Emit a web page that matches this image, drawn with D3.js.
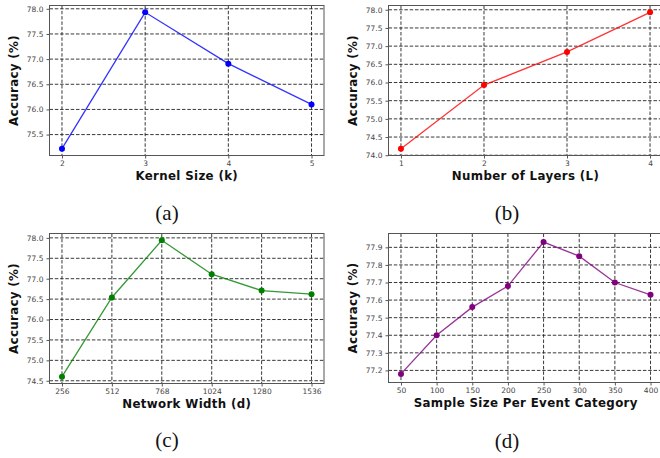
<!DOCTYPE html>
<html>
<head>
<meta charset="utf-8">
<script src="https://cdn.jsdelivr.net/npm/d3@7"></script>
<style>
  body { margin: 0; background: #fff; }
  svg { display: block; }
  .tick text { font-family: "DejaVu Sans", sans-serif; font-size: 7.5px; fill: #444; }
  .axis-label { font-family: "DejaVu Sans", sans-serif; font-size: 11.8px; font-weight: bold; fill: #111; letter-spacing: 0.35px; }
  .caption { font-family: "Liberation Serif", "DejaVu Serif", serif; font-size: 21px; fill: #111; }
</style>
</head>
<body>
<div id="fig"></div>
<script>
// (a) kernel size
const kernelSizes = [2, 3, 4, 5];
const kernelAcc = [75.22, 77.93, 76.91, 76.10];
const kernelTicksY = [75.5, 76.0, 76.5, 77.0, 77.5, 78.0];

// (b) number of layers
const layerCounts = [1, 2, 3, 4];
const layerAcc = [74.18, 75.93, 76.84, 77.93];
const layerTicksY = [74.0, 74.5, 75.0, 75.5, 76.0, 76.5, 77.0, 77.5, 78.0];

// (c) network width
const widths = [256, 512, 768, 1024, 1280, 1536];
const widthAcc = [74.60, 76.54, 77.94, 77.11, 76.71, 76.62];
const widthTicksY = [74.5, 75.0, 75.5, 76.0, 76.5, 77.0, 77.5, 78.0];

// (d) sample size per event category
const sampleSizes = [50, 100, 150, 200, 250, 300, 350, 400];
const sampleAcc = [77.18, 77.40, 77.56, 77.68, 77.93, 77.85, 77.70, 77.63];
const sampleTicksY = [77.2, 77.3, 77.4, 77.5, 77.6, 77.7, 77.8, 77.9];

const width = 660;
const height = 458;

const svg = d3.select("#fig")
  .append("svg")
  .attr("width", width)
  .attr("height", height);

// matplotlib-like margins around the data
const padded = (vals, frac = 0.05) => {
  const [lo, hi] = d3.extent(vals);
  const m = (hi - lo) * frac;
  return [lo - m, hi + m];
};

const panels = [
  { x: kernelSizes, y: kernelAcc, yTicks: kernelTicksY, color: "#0000ff",
    xLabel: "Kernel Size (k)", caption: "(a)", box: [49.5, 5.5, 324, 155.5], capPos: [167, 220] },
  { x: layerCounts, y: layerAcc, yTicks: layerTicksY, color: "#ff0000",
    xLabel: "Number of Layers (L)", caption: "(b)", box: [388.5, 5.5, 662.5, 155.5], capPos: [507, 220] },
  { x: widths, y: widthAcc, yTicks: widthTicksY, color: "#008000",
    xLabel: "Network Width (d)", caption: "(c)", box: [49.5, 233.5, 324, 383.5], capPos: [167, 447] },
  { x: sampleSizes, y: sampleAcc, yTicks: sampleTicksY, color: "#800080", yPad: 0.065,
    xLabel: "Sample Size Per Event Category", caption: "(d)", box: [388.5, 233.5, 663, 382.5], capPos: [507, 448] }
];

panels.forEach((p) => {
  const [x0, y0, x1, y1] = p.box;
  const xScale = d3.scaleLinear().domain(padded(p.x)).range([x0, x1]);
  const yScale = d3.scaleLinear().domain(padded(p.y, p.yPad || 0.05)).range([y1, y0]);
  const g = svg.append("g");

  // grid
  g.append("g")
    .selectAll("line")
    .data(p.yTicks)
    .join("line")
    .attr("x1", x0).attr("x2", x1)
    .attr("y1", (d) => yScale(d)).attr("y2", (d) => yScale(d))
    .attr("stroke", "#222").attr("stroke-width", 0.9)
    .attr("stroke-dasharray", "3.5,1.8");
  g.append("g")
    .selectAll("line")
    .data(p.x)
    .join("line")
    .attr("x1", (d) => xScale(d)).attr("x2", (d) => xScale(d))
    .attr("y1", y0).attr("y2", y1)
    .attr("stroke", "#222").attr("stroke-width", 0.9)
    .attr("stroke-dasharray", "3.5,1.8");

  // axes
  const xAxis = g.append("g")
    .attr("transform", `translate(0,${y1})`)
    .call(d3.axisBottom(xScale).tickValues(p.x).tickFormat(d3.format("d")).tickSize(3).tickPadding(2));
  const yAxis = g.append("g")
    .attr("transform", `translate(${x0},0)`)
    .call(d3.axisLeft(yScale).tickValues(p.yTicks).tickFormat(d3.format(".1f")).tickSize(3).tickPadding(3));
  [xAxis, yAxis].forEach((a) => {
    a.select(".domain").remove();
    a.selectAll(".tick line").attr("stroke", "#555");
  });

  // frame
  g.append("rect")
    .attr("x", x0).attr("y", y0)
    .attr("width", x1 - x0).attr("height", y1 - y0)
    .attr("fill", "none").attr("stroke", "#555").attr("stroke-width", 1);

  // line + markers
  const pts = p.x.map((v, i) => [v, p.y[i]]);
  g.append("path")
    .datum(pts)
    .attr("fill", "none")
    .attr("stroke", p.color)
    .attr("stroke-opacity", 0.8)
    .attr("stroke-width", 1.3)
    .attr("d", d3.line().x((d) => xScale(d[0])).y((d) => yScale(d[1])));
  g.append("g")
    .selectAll("circle")
    .data(pts)
    .join("circle")
    .attr("cx", (d) => xScale(d[0]))
    .attr("cy", (d) => yScale(d[1]))
    .attr("r", 3)
    .attr("fill", p.color);

  // labels
  g.append("text")
    .attr("class", "axis-label")
    .attr("x", (x0 + x1) / 2)
    .attr("y", y1 + 24)
    .attr("text-anchor", "middle")
    .text(p.xLabel);
  g.append("text")
    .attr("class", "axis-label")
    .attr("transform", `translate(${x0 - 32},${(y0 + y1) / 2}) rotate(-90)`)
    .attr("text-anchor", "middle")
    .text("Accuracy (%)");
  g.append("text")
    .attr("class", "caption")
    .attr("x", p.capPos[0])
    .attr("y", p.capPos[1])
    .attr("text-anchor", "middle")
    .text(p.caption);
});
</script>
</body>
</html>
